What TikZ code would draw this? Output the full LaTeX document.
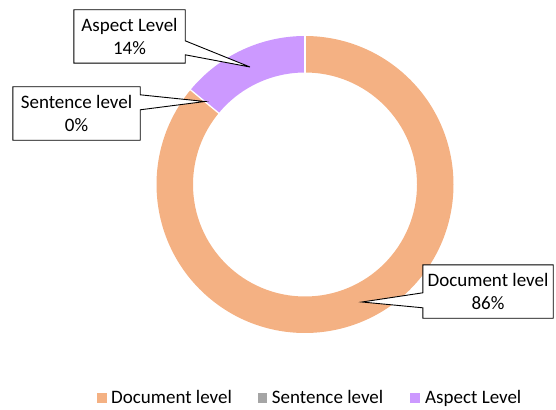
\documentclass[tikz,border=0pt]{standalone}
\usepackage{fontspec}
\setmainfont{Carlito}
\usetikzlibrary{calc}
\definecolor{docc}{HTML}{F4B183}
\definecolor{senc}{HTML}{A5A5A5}
\definecolor{aspc}{HTML}{CC99FF}
\tikzset{
  lbl/.style={align=center, inner sep=0pt, minimum width=#1, minimum height=53},
  callout/.style={draw=black, fill=white, line width=0.9pt, line join=miter},
  sep/.style={white, line width=1.3pt},
  legsq/.style={minimum size=9.5, inner sep=0pt, anchor=south west},
  legtxt/.style={anchor=base west, inner sep=0pt}
}
\begin{document}
\begin{tikzpicture}[x=1pt,y=1pt,font=\fontsize{19}{23}\selectfont]
\useasboundingbox (0,0) rectangle (556,-409);
\coordinate (c) at (305,-184.5);
\def\Ro{148.5}
\def\Ri{112}
% donut slices
\fill[docc] ([shift={(140.4:\Ro)}]c) arc[start angle=140.4,end angle=450,radius=\Ro]
  -- ([shift={(90:\Ri)}]c) arc[start angle=450,end angle=140.4,radius=\Ri] -- cycle;
\fill[aspc] ([shift={(90:\Ro)}]c) arc[start angle=90,end angle=140.4,radius=\Ro]
  -- ([shift={(140.4:\Ri)}]c) arc[start angle=140.4,end angle=90,radius=\Ri] -- cycle;
\draw[sep] ([shift={(90:\Ri-1)}]c) -- ([shift={(90:\Ro+1)}]c);
\draw[sep] ([shift={(140.4:\Ri-1)}]c) -- ([shift={(140.4:\Ro+1)}]c);
% callout tips
\coordinate (asptip) at (250,-67);
\coordinate (sentip) at (205,-101.5);
\coordinate (doctip) at (362,-302);
% Aspect callout
\node[lbl=111] (asp) at (129.5,-36.5) {};
\draw[callout] (asp.north west) -- (asp.north east) -- ($(asp.north east)+(0,-31)$) -- (asptip)
  -- ($(asp.north east)+(0,-45)$) -- (asp.south east) -- (asp.south west) -- cycle;
\node[align=center] (asptxt) at (asp.center) {Aspect Level\\14\%};
% Sentence callout
\node[lbl=127] (sen) at (76.5,-113.5) {};
\draw[callout] (sen.north west) -- (sen.north east) -- ($(sen.north east)+(0,-8)$) -- (sentip)
  -- ($(sen.north east)+(0,-23)$) -- (sen.south east) -- (sen.south west) -- cycle;
\node[align=center] (sentxt) at (sen.center) {Sentence level\\0\%};
% Document callout
\node[lbl=130] (doc) at (488,-291.5) {};
\draw[callout] (doc.north west) -- (doc.north east) -- (doc.south east) -- (doc.south west)
  -- ($(doc.north west)+(0,-43)$) -- (doctip) -- ($(doc.north west)+(0,-28)$) -- cycle;
\node[align=center] (doctxt) at (doc.center) {Document level\\86\%};
% legend
\node[legsq, fill=docc] (l1) at (97,-403) {};
\node[legtxt] (t1) at (111,-403.3) {Document level};
\node[legsq, fill=senc] (l2) at (257.3,-403) {};
\node[legtxt] (t2) at (271.7,-403.3) {Sentence level};
\node[legsq, fill=aspc] (l3) at (410,-403) {};
\node[legtxt] (t3) at (425,-403.3) {Aspect Level};
\end{tikzpicture}
\end{document}
